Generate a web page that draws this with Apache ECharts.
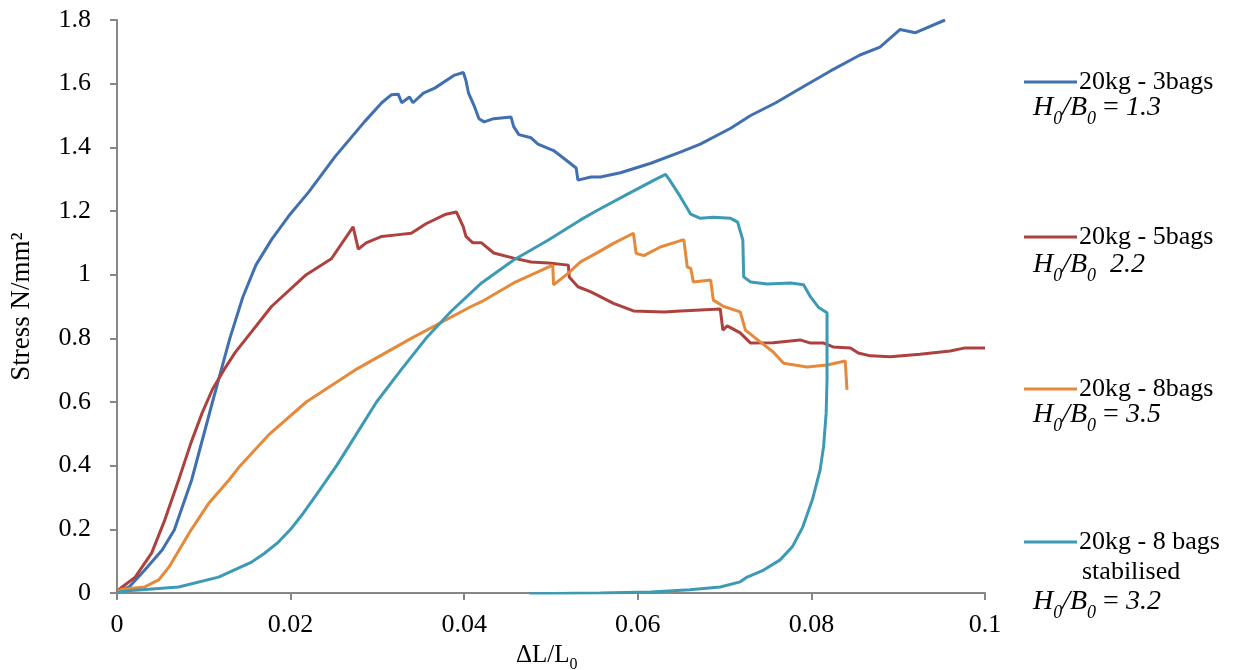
<!DOCTYPE html>
<html>
<head>
<meta charset="utf-8">
<script src="https://cdn.jsdelivr.net/npm/echarts@6/dist/echarts.min.js"></script>
<style>
  html, body { margin: 0; padding: 0; background: #fff; }
  #chart { width: 1234px; height: 670px; }
</style>
</head>
<body>
<div id="chart"></div>
<script>
// Strain (ΔL/L0) and stress (N/mm²) readings for each test
const names = ['20kg - 3bags', '20kg - 5bags', '20kg - 8bags', '20kg - 8 bags'];
const ratioLabels = ['1.3', '2.2', '3.5', '3.2'];

const bags3X = [0, 0.0003, 0.0014, 0.0032, 0.0052, 0.0066, 0.0086, 0.0110, 0.0130, 0.0145, 0.0160, 0.0178, 0.0198, 0.0221, 0.0251, 0.0285, 0.0305, 0.0316, 0.0324, 0.0328, 0.0337, 0.0341, 0.0353, 0.0366, 0.0389, 0.0399, 0.0402, 0.0405, 0.0412, 0.0417, 0.0423, 0.0434, 0.0454, 0.0457, 0.0463, 0.0477, 0.0485, 0.0503, 0.0515, 0.0529, 0.0531, 0.0546, 0.0557, 0.0580, 0.0615, 0.0649, 0.0672, 0.0707, 0.0730, 0.0759, 0.0787, 0.0822, 0.0856, 0.0879, 0.0902, 0.0920, 0.0954];
const bags3Y = [0.005, 0.008, 0.019, 0.072, 0.135, 0.198, 0.355, 0.60, 0.80, 0.93, 1.03, 1.11, 1.185, 1.26, 1.37, 1.48, 1.54, 1.565, 1.567, 1.54, 1.558, 1.54, 1.57, 1.586, 1.627, 1.635, 1.61, 1.57, 1.527, 1.49, 1.48, 1.49, 1.495, 1.465, 1.44, 1.43, 1.41, 1.39, 1.365, 1.335, 1.297, 1.307, 1.307, 1.32, 1.35, 1.385, 1.41, 1.46, 1.50, 1.54, 1.585, 1.64, 1.69, 1.715, 1.77, 1.76, 1.80];

const bags5X = [0, 0.0006, 0.0021, 0.0040, 0.0055, 0.0071, 0.0085, 0.0098, 0.0110, 0.0123, 0.0136, 0.0149, 0.0178, 0.0218, 0.0247, 0.0272, 0.0278, 0.0287, 0.0305, 0.0322, 0.0339, 0.0356, 0.0379, 0.0391, 0.0399, 0.0402, 0.0410, 0.0420, 0.0434, 0.0457, 0.0477, 0.0497, 0.0520, 0.0521, 0.0531, 0.0546, 0.0572, 0.0595, 0.0630, 0.0649, 0.0695, 0.0698, 0.0703, 0.0718, 0.0730, 0.0756, 0.0787, 0.0799, 0.0814, 0.0825, 0.0845, 0.0854, 0.0868, 0.0891, 0.0925, 0.0960, 0.0977, 0.1000];
const bags5Y = [0.005, 0.019, 0.05, 0.126, 0.229, 0.355, 0.47, 0.565, 0.64, 0.70, 0.755, 0.80, 0.90, 1.0, 1.05, 1.15, 1.08, 1.10, 1.12, 1.125, 1.13, 1.16, 1.19, 1.197, 1.15, 1.12, 1.10, 1.10, 1.068, 1.052, 1.04, 1.037, 1.03, 0.993, 0.962, 0.946, 0.91, 0.886, 0.883, 0.886, 0.892, 0.826, 0.839, 0.817, 0.785, 0.786, 0.795, 0.785, 0.785, 0.773, 0.77, 0.754, 0.745, 0.742, 0.75, 0.76, 0.77, 0.77];

const bags8X = [0, 0.0006, 0.0032, 0.0048, 0.0060, 0.0083, 0.0106, 0.0129, 0.0142, 0.0176, 0.0218, 0.0274, 0.0339, 0.0408, 0.0420, 0.0457, 0.0502, 0.0503, 0.0520, 0.0534, 0.0554, 0.0573, 0.0595, 0.0598, 0.0607, 0.0626, 0.0653, 0.0657, 0.0661, 0.0664, 0.0684, 0.0687, 0.0699, 0.0718, 0.0724, 0.0741, 0.0756, 0.0768, 0.0795, 0.0818, 0.0839, 0.0841];
const bags8Y = [0.005, 0.012, 0.019, 0.041, 0.082, 0.188, 0.283, 0.355, 0.40, 0.50, 0.60, 0.70, 0.80, 0.90, 0.915, 0.974, 1.03, 0.968, 1.005, 1.04, 1.07, 1.10, 1.13, 1.067, 1.06, 1.087, 1.11, 1.024, 1.02, 0.977, 0.983, 0.92, 0.90, 0.883, 0.826, 0.789, 0.757, 0.722, 0.71, 0.716, 0.729, 0.638];

const stabX = [0, 0.0021, 0.0071, 0.0117, 0.0155, 0.0170, 0.0186, 0.0200, 0.0213, 0.0230, 0.0253, 0.0276, 0.0299, 0.0327, 0.0356, 0.0385, 0.0420, 0.0457, 0.0497, 0.0534, 0.0552, 0.0586, 0.0621, 0.0632, 0.0636, 0.0649, 0.0661, 0.0672, 0.0687, 0.0707, 0.0715, 0.0721, 0.0722, 0.0730, 0.0749, 0.0776, 0.0791, 0.0799, 0.0808, 0.0818, 0.0818, 0.0818, 0.0817, 0.0814, 0.0810, 0.0801, 0.0790, 0.0778, 0.0764, 0.0745, 0.0726, 0.0718, 0.0695, 0.0660, 0.0615, 0.0557, 0.0475];
const stabY = [0.002, 0.009, 0.019, 0.05, 0.097, 0.125, 0.16, 0.20, 0.245, 0.31, 0.40, 0.50, 0.60, 0.70, 0.80, 0.885, 0.974, 1.046, 1.109, 1.172, 1.20, 1.25, 1.30, 1.315, 1.30, 1.245, 1.19, 1.177, 1.18, 1.177, 1.165, 1.109, 0.993, 0.977, 0.971, 0.974, 0.968, 0.93, 0.898, 0.88, 0.773, 0.669, 0.565, 0.459, 0.386, 0.292, 0.207, 0.145, 0.104, 0.072, 0.05, 0.035, 0.019, 0.01, 0.003, 0, -0.002];

const xTicks = { min: 0, max: 0.1, interval: 0.02 };
const yTicks = { min: 0, max: 1.8, interval: 0.2 };

const colors = ['#4170b0', '#ad413d', '#e5893a', '#3d9ab5'];
const serif = '"Liberation Serif", "DejaVu Serif", serif';

const zip = (xs, ys) => xs.map((x, i) => [x, ys[i]]);
const seriesData = [zip(bags3X, bags3Y), zip(bags5X, bags5Y), zip(bags8X, bags8Y), zip(stabX, stabY)];

const legendTops = [69, 224, 376, 529];
const ratioCenters = [111, 268, 418, 605];

const chart = echarts.init(document.getElementById('chart'), null, { renderer: 'canvas' });

const grey = '#878787';

// "H0/B0 = value" line, italic with subscripts
const ratioText = (val, withEq) => ({
  type: 'text',
  style: {
    text: '{i|H}{s|0}{i|/B}{s|0}' + (withEq ? '{e| = }' : '{e|  }') + '{i|' + val + '}',
    rich: {
      i: { fontFamily: serif, fontStyle: 'italic', fontSize: 28, fill: '#000', lineHeight: 32, verticalAlign: 'bottom' },
      s: { fontFamily: serif, fontStyle: 'italic', fontSize: 18, fill: '#000', lineHeight: 32, verticalAlign: 'bottom', padding: [0, 0, -6, 0] },
      e: { fontFamily: serif, fontSize: 28, fill: '#000', lineHeight: 32, verticalAlign: 'bottom' }
    }
  }
});

const graphics = [];
ratioLabels.forEach((v, i) => {
  const g = ratioText(v, i !== 1);
  g.left = 1033;
  g.top = ratioCenters[i] - 17;
  graphics.push(g);
});
graphics.push({
  type: 'text', left: 1082, top: 559,
  style: { text: 'stabilised', fontFamily: serif, fontSize: 26, fill: '#000' }
});
// x axis title with subscript
graphics.push({
  type: 'text', left: 516, top: 643,
  style: {
    text: '{m|ΔL/L}{s|0}',
    rich: {
      m: { fontFamily: serif, fontSize: 25, fill: '#000', lineHeight: 26, verticalAlign: 'bottom' },
      s: { fontFamily: serif, fontSize: 16, fill: '#000', lineHeight: 26, verticalAlign: 'bottom', padding: [0, 0, -5, 0] }
    }
  }
});

chart.setOption({
  animation: false,
  backgroundColor: '#fff',
  color: colors,
  grid: { left: 115, right: 249, top: 20, bottom: 77, containLabel: false },
  xAxis: {
    type: 'value',
    min: xTicks.min, max: xTicks.max, interval: xTicks.interval,
    axisLine: { lineStyle: { color: grey, width: 2 } },
    axisTick: { show: true, length: 7, lineStyle: { color: grey, width: 2 } },
    splitLine: { show: false },
    axisLabel: { fontFamily: serif, fontSize: 26, color: '#000', margin: 19 }
  },
  yAxis: {
    type: 'value',
    min: yTicks.min, max: yTicks.max, interval: yTicks.interval,
    name: 'Stress N/mm²',
    nameLocation: 'middle',
    nameGap: 82,
    nameRotate: 90,
    nameTextStyle: { fontFamily: serif, fontSize: 27, color: '#000' },
    axisLine: { show: true, lineStyle: { color: grey, width: 2 } },
    axisTick: { show: true, length: 7, lineStyle: { color: grey, width: 2 } },
    splitLine: { show: false },
    axisLabel: { fontFamily: serif, fontSize: 26, color: '#000', margin: 26 }
  },
  legend: names.map((n, i) => ({
    data: [n],
    left: 1024,
    top: legendTops[i],
    padding: 0,
    icon: 'rect',
    itemWidth: 53,
    itemHeight: 3,
    itemGap: 0,
    textStyle: { fontFamily: serif, fontSize: 26, color: '#000', padding: [0, 0, 0, -3] }
  })),
  graphic: graphics,
  series: names.map((n, i) => ({
    name: n,
    type: 'line',
    data: seriesData[i],
    showSymbol: false,
    symbol: 'none',
    clip: true,
    lineStyle: { width: 3, color: colors[i] },
    itemStyle: { color: colors[i] }
  }))
});
</script>
</body>
</html>
